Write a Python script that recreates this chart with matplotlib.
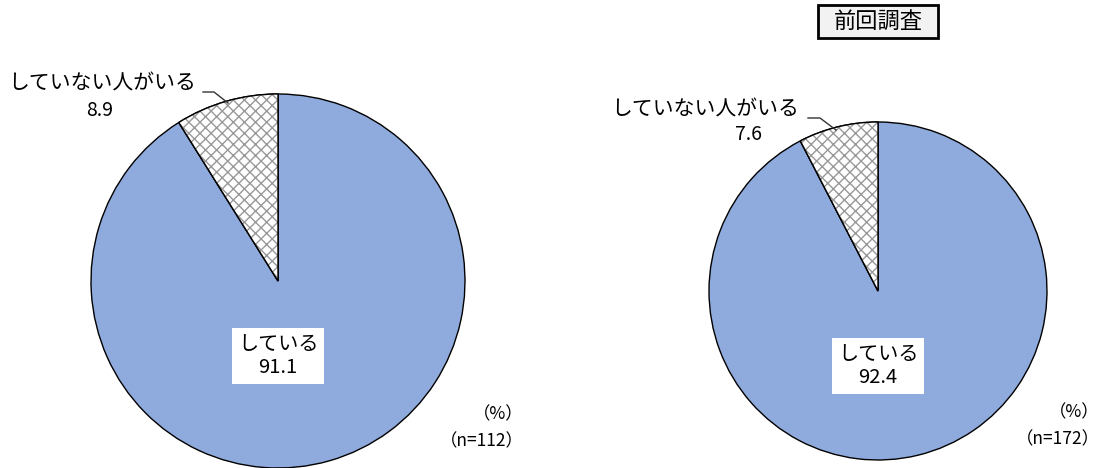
import matplotlib.pyplot as plt
from matplotlib.patches import Wedge, Rectangle

plt.rcParams['font.family'] = ['Noto Sans CJK JP', 'DejaVu Sans']

# data
labels = ['している', 'していない人がいる']
current = [91.1, 8.9]
previous = [92.4, 7.6]
n_current = 112
n_previous = 172

blue = '#8FAADC'

fig = plt.figure(figsize=(11.11, 4.68), dpi=100)
ax = fig.add_axes([0, 0, 1, 1])
H = 468


def draw_pie(vals, n, cx, cy, r, lab_xy, num_xy, leader, pct_xy, n_xy):
    cy = H - cy
    wedges, _ = ax.pie(vals, startangle=90, counterclock=False, center=(cx, cy),
                       radius=r, colors=[blue, 'white'],
                       wedgeprops=dict(edgecolor='black', linewidth=1))
    # gray hatch on the small slice, then a black outline on top
    w = wedges[1]
    ax.add_patch(Wedge(w.center, w.r, w.theta1, w.theta2, facecolor='white',
                       edgecolor='#999999', hatch='xxx', linewidth=0))
    ax.add_patch(Wedge(w.center, w.r, w.theta1, w.theta2, facecolor='none',
                       edgecolor='black', linewidth=1))

    ax.text(cx, cy - 75, f'{labels[0]}\n{vals[0]}', ha='center', va='center',
            fontsize=14.5, linespacing=1.15,
            bbox=dict(facecolor='white', edgecolor='none', pad=4))
    ax.text(lab_xy[0], H - lab_xy[1], labels[1], ha='left', va='center', fontsize=15)
    ax.text(num_xy[0], H - num_xy[1], f'{vals[1]}', ha='center', va='center', fontsize=14)
    xs = [p[0] for p in leader]
    ys = [H - p[1] for p in leader]
    ax.plot(xs, ys, color='#333333', lw=1)
    ax.text(pct_xy[0], H - pct_xy[1], '（%）', ha='right', va='center', fontsize=12.5)
    ax.text(n_xy[0], H - n_xy[1], f'（n={n}）', ha='right', va='center', fontsize=12.5)


draw_pie(current, n_current, 278, 281, 187, (8, 84), (100, 110),
         [(203, 92), (214, 92), (228, 103)], (524, 414), (524, 441))
draw_pie(previous, n_previous, 878, 291, 169, (611, 110), (748, 135),
         [(808, 118), (820, 118), (836, 130)], (1100, 412), (1100, 439))

ax.add_patch(Rectangle((818, H - 38), 120, 33, facecolor='#F2F2F2',
                       edgecolor='black', linewidth=2))
ax.text(878, H - 21, '前回調査', ha='center', va='center', fontsize=16)

ax.set_xlim(0, 1111)
ax.set_ylim(0, H)
ax.set_aspect('equal')
ax.axis('off')

fig.savefig('out.png', dpi=100)
